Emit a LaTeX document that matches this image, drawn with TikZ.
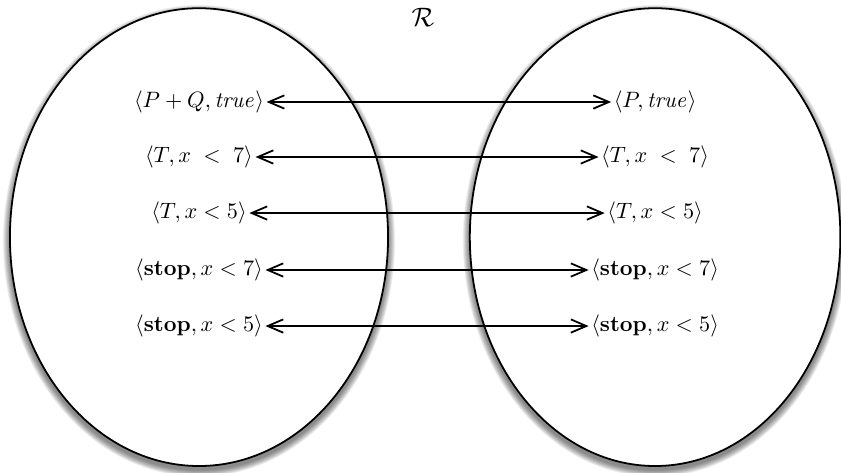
\documentclass[tikz,border=0pt]{standalone}
\usetikzlibrary{arrows.meta}
\tikzset{
  rel/.style={{Straight Barb[length=7pt,width=6pt]}-{Straight Barb[length=7pt,width=6pt]}, thick},
  conf/.style={inner sep=1pt},
}
\begin{document}
\begin{tikzpicture}
  \useasboundingbox (0,0) rectangle (13.3,7.48);

  % soft shadows under both sets
  \foreach \cx/\rx in {3.147/2.99, 10.36/2.93}{
    \foreach \i in {1,...,10}
      \fill[black, opacity=0.06] (\cx,3.73-0.06) ellipse [x radius=\rx+0.011*\i, y radius=3.62+0.011*\i];
  }
  \draw[fill=white, line width=0.8pt] (3.147,3.73) ellipse [x radius=2.99, y radius=3.62];
  \draw[fill=white, line width=0.8pt] (10.36,3.73) ellipse [x radius=2.93, y radius=3.62];

  \node (rel) at (6.69,7.21) {\large$\mathcal{R}$};

  % left configurations
  \node[conf] (l1) at (3.147,5.867) {$\langle P + Q, \mathit{true}\rangle$};
  \node[conf] (l2) at (3.147,4.997) {$\langle T, x \;<\; 7\rangle$};
  \node[conf] (l3) at (3.147,4.111) {$\langle T, x < 5\rangle$};
  \node[conf] (l4) at (3.147,3.210) {$\langle \textbf{stop}, x < 7\rangle$};
  \node[conf] (l5) at (3.147,2.324) {$\langle \textbf{stop}, x < 5\rangle$};

  % right configurations
  \node[conf] (r1) at (10.36,5.867) {$\langle P, \mathit{true}\rangle$};
  \node[conf] (r2) at (10.36,4.997) {$\langle T, x \;<\; 7\rangle$};
  \node[conf] (r3) at (10.36,4.111) {$\langle T, x < 5\rangle$};
  \node[conf] (r4) at (10.36,3.210) {$\langle \textbf{stop}, x < 7\rangle$};
  \node[conf] (r5) at (10.36,2.324) {$\langle \textbf{stop}, x < 5\rangle$};

  \foreach \k in {1,...,5}
    \draw[rel] (l\k) -- (r\k);
\end{tikzpicture}
\end{document}
